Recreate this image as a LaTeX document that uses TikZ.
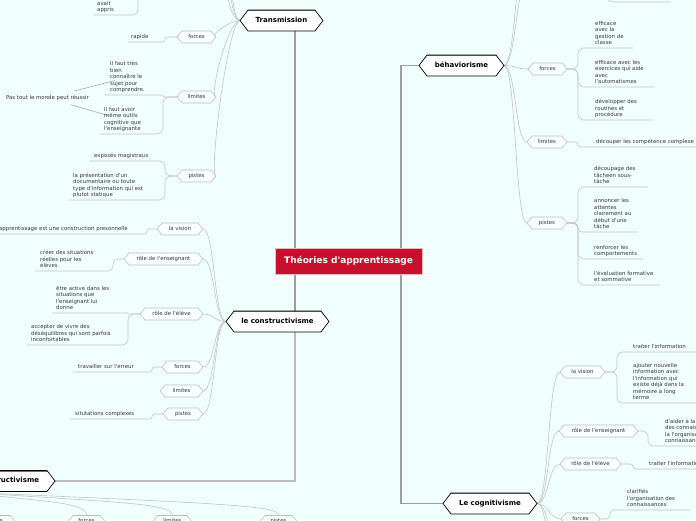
\documentclass[tikz,border=0pt]{standalone}
\usepackage{fontspec}
\newfontfamily\dv{DejaVu Sans}
\usetikzlibrary{shapes.symbols}
\pgfdeclarelayer{back}
\pgfdeclarelayer{bg}
\pgfsetlayers{back,bg,main}
\definecolor{bgc}{RGB}{241,255,252}
\definecolor{redc}{RGB}{200,16,46}
\definecolor{conc}{RGB}{192,198,198}
\definecolor{subb}{RGB}{184,190,190}
\definecolor{txtc}{RGB}{55,55,55}
\definecolor{linec}{RGB}{158,158,158}
\definecolor{relc}{RGB}{165,168,168}
\begin{document}
\begin{tikzpicture}[x=1pt,y=-1pt,
  mainhex/.style={signal, signal to=west and east, signal pointer angle=105,
    draw=black, line width=0.7pt, fill=white, outer sep=0pt,
    font=\dv\fontsize{7}{8}\selectfont\bfseries, text=black,
    inner xsep=1pt, inner ysep=7.05pt, text height=5.4pt, text depth=1.5pt,
    align=center, text width=#1,
    path picture={\fill[black!55] (path picture bounding box.north west) rectangle ([yshift=-1.4pt]path picture bounding box.north east);}},
  subhex/.style={signal, signal to=west and east, signal pointer angle=100,
    draw=subb, line width=0.55pt, fill=white!55!bgc, outer sep=0pt,
    font=\dv\fontsize{5.4}{6.5}\selectfont, text=txtc,
    inner xsep=1pt, inner ysep=3.4pt, text height=4pt, text depth=1.2pt,
    align=center, text width=#1},
  leaf/.style={font=\dv\fontsize{5.4}{6.5}\selectfont, text=txtc, align=left,
    inner xsep=0pt, inner ysep=1.7pt, text depth=1.3pt, anchor=south west},
  cn/.style={draw=conc, line width=0.6pt, rounded corners=#1},
  br/.style={draw=conc, line width=0.6pt},
  mainline/.style={draw=linec, line width=1.5pt},
  rel/.style={draw=relc, line width=0.6pt}
]
\useasboundingbox (0,0) rectangle (696,520);

% central topic
\node[fill=redc, draw=white!70!redc, line width=0.5pt, minimum width=147pt, minimum height=26pt,
  inner sep=0pt, text=white, font=\dv\fontsize{9}{10}\selectfont\bfseries] (R) at (348.5,261) {Théories d'apprentissage};

% main topics
\node[mainhex=64.9pt] (T) at (281.5,20.5) {Transmission};
\node[mainhex=84.9pt] (C) at (277.5,321.5) {le constructivisme};
\node[mainhex=66.9pt] (B) at (461.5,65.5) {béhaviorisme};
\node[mainhex=75.9pt] (G) at (490,503.5) {Le cognitivisme};
\node[mainhex=110pt, align=right, anchor=east] (S) at (55,481) {socioconstructivisme\hspace*{6.9pt}};

% sub topics: Transmission
\node[subhex=26.9pt, anchor=east] (fT) at (216,37) {forces};
\node[subhex=26.9pt, anchor=east] (lT) at (216,97) {limites};
\node[subhex=26.9pt, anchor=east] (pT) at (216,176) {pistes};
% constructivisme
\node[subhex=33.9pt, anchor=east] (vC) at (203,229) {la vision};
\node[subhex=66.9pt, anchor=east] (eC) at (203,259) {rôle de l'enseignant};
\node[subhex=50.9pt, anchor=east] (lC) at (203,314) {rôle de l'élève};
\node[subhex=28.9pt, anchor=east] (fC) at (203,367) {forces};
\node[subhex=30.9pt, anchor=east] (mC) at (203,391) {limites};
\node[subhex=27.9pt, anchor=east] (pC) at (203,414) {pistes};
% behaviorisme
\node[subhex=26.9pt, anchor=west] (fB) at (528,69) {forces};
\node[subhex=27.9pt, anchor=west] (lB) at (527,142) {limites};
\node[subhex=27.9pt, anchor=west] (pB) at (527,223) {pistes};
% cognitivisme
\node[subhex=32.9pt, anchor=west] (vG) at (560,372) {la vision};
\node[subhex=66.9pt, anchor=west] (eG) at (559,431) {rôle de l'enseignant};
\node[subhex=48.9pt, anchor=west] (lG) at (560,464) {rôle de l'élève};
\node[subhex=26.9pt, anchor=west] (fG) at (561,519) {forces};
% socioconstructivisme (bottom row)
\node[subhex=50.9pt, anchor=east] (sa) at (15,521.5) {rôle de l'élève};
\node[subhex=24.9pt] (sb) at (86.5,521.5) {forces};
\node[subhex=26.9pt] (sc) at (172.5,521.5) {limites};
\node[subhex=24.9pt] (sd) at (278.5,521.5) {pistes};

% off-canvas ends
\coordinate (tX1) at (216,-22);
\coordinate (tX2) at (216,-60);
\coordinate (tX3) at (216,-100);
\coordinate (avJ) at (138,-30);
\coordinate (bX1) at (528,-20);
\coordinate (bX2) at (528,-60);
\coordinate (bJ) at (607,-30);
\coordinate (bU) at (670,2);
\coordinate (gX1) at (560,545);
\coordinate (gX2) at (560,580);
\coordinate (sP) at (-40,492);

% leaves: Transmission
\node[leaf] (av) at (97,15) {avait\\appris};
\node[leaf] (rp) at (131,42) {rapide};
\node[leaf] (l1) at (110,95) {Il faut très\\bien\\connaître le\\sujet pour\\comprendre.};
\node[leaf] (l2) at (104,134) {Il faut avoir\\même outils\\cognitive que\\l'enseignante};
\node[leaf] (p1) at (94,161) {exposés magistraux};
\node[leaf] (p2) at (73,200) {la présentation d'un\\documentaire ou toute\\type d'information qui est\\plutot statique};
\node[font=\dv\fontsize{5.4}{6.5}\selectfont, text=txtc, inner sep=1pt] (pt) at (47.5,98) {Pas tout le monde peut réussir};
% leaves: constructivisme
\node[leaf, anchor=south east] (cv1) at (128,234) {l'apprentissage est une construction presonnelle};
\node[leaf] (ce1) at (40,271) {créer des situations\\réelles pour les\\élèves};
\node[leaf] (cl1) at (56,313) {être active dans les\\situations que\\l'enseignant lui\\donne};
\node[leaf] (cl2) at (31,345) {accepter de vivre des\\déséquilibres qui sont parfois\\inconfortables};
\node[leaf] (cf1) at (78,372) {travailler sur l'erreur};
\node[leaf] (cp1) at (75,419) {situtations complexes};
% leaves: behaviorisme
\node[leaf] (bf1) at (595,48) {efficace\\avec la\\gestion de\\classe};
\node[leaf] (bf2) at (595,87) {efficace avec les\\exercices qui aide\\avec\\l'automatismes};
\node[leaf] (bf3) at (595,120) {développer des\\routines et\\procédure};
\node[leaf] (bl1) at (596,147) {découper les compétence complexe};
\node[leaf] (bp1) at (594,187) {découpage des\\tâcheen sous-\\tâche};
\node[leaf] (bp2) at (594,232) {annoncer les\\attentes\\clairement au\\début d'une\\tâche};
\node[leaf] (bp3) at (594,259) {renforcer les\\comportements};
\node[leaf] (bp4) at (594,285) {l'évaluation formative\\et sommative};
% leaves: cognitivisme
\node[leaf] (gv1) at (633,352) {traiter l'information};
\node[leaf] (gv2) at (633,403) {ajouter nouvelle\\information avec\\l'information qui\\existe déjà dans la\\mémoire à long\\terme};
\node[leaf] (ge1) at (665,446) {d'aider à la construction\\des connaissances et\\la l'organisation des\\connaissances};
\node[leaf] (gl1) at (649,469) {traiter l'information};
\node[leaf] (gf1) at (627,510) {clarifiés\\l'organisation des\\connaissances};

\begin{pgfonlayer}{back}
\fill[bgc] (0,0) rectangle (696,520);
\end{pgfonlayer}

\begin{pgfonlayer}{bg}
% main lines
\draw[mainline] ([xshift=13.5pt]T.south) -- ([xshift=17.5pt]C.north);
\draw[mainline, draw=linec!70, line width=1.1pt] ([xshift=17.5pt]C.south) |- (S.east);
\draw[mainline] (B.west) -- ++(-18,0) |- (G.west);

% Transmission branches
\foreach \n in {fT,lT,pT,tX1,tX2,tX3}
  \draw[br] (T.west) .. controls +(-12,0) and +(12,0) .. (\n);
\draw[cn=2.5pt] (fT.west) -- ++(-12,0) |- ([xshift=-3pt]rp.south west);
\draw[cn=1pt] (lT.west) -- ++(-14,0) |- ([xshift=-5pt]l1.south west);
\draw[cn=6pt] (lT.west) -- ++(-14,0) |- ([xshift=-4pt]l2.south west);
\draw[cn=6pt] (pT.west) -- ++(-12,0) |- ([xshift=-5pt]p1.south west);
\draw[cn=6pt] (pT.west) -- ++(-12,0) |- ([xshift=-4pt]p2.south west);
\draw[cn=6pt] (avJ) |- ([xshift=-4pt]av.south west);
\draw[rel, shorten <=12pt, shorten >=-5pt] (pt) -- (l1);
\draw[rel, shorten <=10pt, shorten >=-4pt] (pt) -- (l2);

% constructivisme branches
\foreach \n in {vC,eC,lC,fC,mC,pC}
  \draw[br] (C.west) .. controls +(-12,0) and +(12,0) .. (\n.east);
\draw[cn=2.5pt] (vC.west) -- ++(-10,0) |- ([xshift=-5pt]cv1.south west);
\draw[cn=5pt] (eC.west) -- ++(-11,0) |- ([xshift=-5pt]ce1.south west);
\draw[cn=0.5pt] (lC.west) -- ++(-12,0) |- ([xshift=-4pt]cl1.south west);
\draw[cn=6pt] (lC.west) -- ++(-12,0) |- ([xshift=-4pt]cl2.south west);
\draw[cn=2.5pt] (fC.west) -- ++(-10,0) |- ([xshift=-5pt]cf1.south west);
\draw[cn=2.5pt] (pC.west) -- ++(-11,0) |- ([xshift=-5pt]cp1.south west);

% behaviorisme branches
\foreach \n in {fB,lB,pB}
  \draw[br] (B.east) .. controls +(12,0) and +(-12,0) .. (\n.west);
\foreach \n in {bX1,bX2}
  \draw[br] (B.east) .. controls +(12,0) and +(-12,0) .. (\n);
\draw[cn=6pt] (fB.east) -- ++(11,0) |- ([xshift=38pt]bf1.south west);
\draw[cn=6pt] (fB.east) -- ++(11,0) |- ([xshift=59pt]bf2.south west);
\draw[cn=6pt] (fB.east) -- ++(11,0) |- ([xshift=58pt]bf3.south west);
\draw[cn=2.5pt] (lB.east) -- ++(11,0) |- ([xshift=124pt]bl1.south west);
\draw[cn=6pt] (pB.east) -- ++(11,0) |- ([xshift=54pt]bp1.south west);
\draw[cn=4pt] (pB.east) -- ++(11,0) |- ([xshift=44pt]bp2.south west);
\draw[cn=6pt] (pB.east) -- ++(11,0) |- ([xshift=49pt]bp3.south west);
\draw[cn=6pt] (pB.east) -- ++(11,0) |- ([xshift=66pt]bp4.south west);
\draw[cn=6pt] (bJ) |- (bU);

% cognitivisme branches
\foreach \n in {vG,eG,lG,fG}
  \draw[br] (G.east) .. controls +(12,0) and +(-12,0) .. (\n.west);
\foreach \n in {gX1,gX2}
  \draw[br] (G.east) .. controls +(12,0) and +(-12,0) .. (\n);
\draw[cn=6pt] (vG.east) -- ++(12,0) |- ([xshift=90pt]gv1.south west);
\draw[cn=6pt] (vG.east) -- ++(12,0) |- ([xshift=70pt]gv2.south west);
\draw[cn=5pt] (eG.east) -- ++(10,0) |- ([xshift=100pt]ge1.south west);
\draw[cn=2.5pt] (lG.east) -- ++(12,0) |- ([xshift=80pt]gl1.south west);
\draw[cn=4pt] (fG.east) -- ++(10,0) |- ([xshift=63pt]gf1.south west);

% socioconstructivisme branches
\draw[br] (sP) .. controls (-30,500) and (-16.5,500) .. (sa.north);
\draw[br] (sP) .. controls (46.5,502) and (86.5,502) .. (sb.north);
\draw[br] (sP) .. controls (132.5,503) and (172.5,504) .. (sc.north);
\draw[br] (sP) .. controls (238.5,504) and (278.5,506) .. (sd.north);
\end{pgfonlayer}
\end{tikzpicture}
\end{document}
